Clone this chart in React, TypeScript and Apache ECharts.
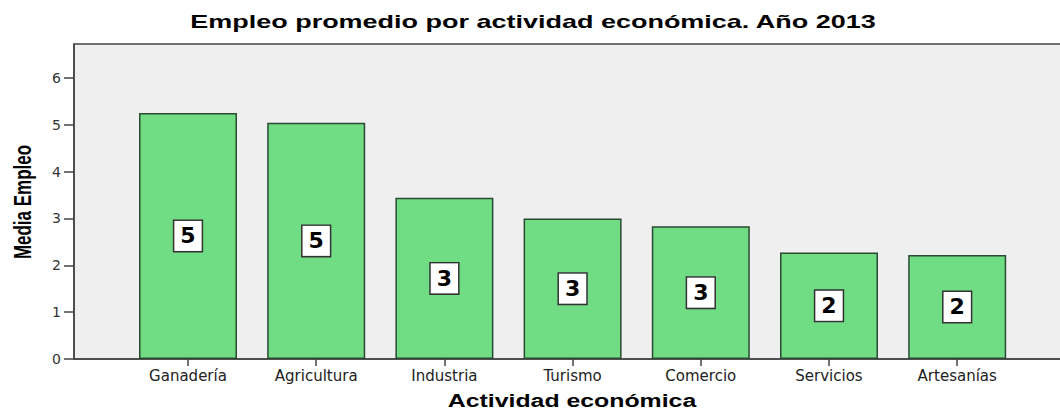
import React, { useEffect, useRef } from "react";
import * as echarts from "echarts";

const categories = ["Ganadería", "Agricultura", "Industria", "Turismo", "Comercio", "Servicios", "Artesanías"];
const meanEmpleo = [5.25, 5.04, 3.44, 3.0, 2.83, 2.27, 2.22];
const yTicks = [0, 1, 2, 3, 4, 5, 6];
const xTicks = [0, 1, 2, 3, 4, 5, 6];
const titleText = "Empleo promedio por actividad económica. Año 2013";
const xTitle = "Actividad económica";
const yTitle = "Media Empleo";

const CHART_W = 1080;
const CHART_H = 410;

export default function App() {
  const ref = useRef<HTMLDivElement>(null);
  useEffect(() => {
    if (!ref.current) return;
    const chart = echarts.init(ref.current, undefined, { renderer: "svg" });
    const gridLeft = 74;
    const gridRight = 0;
    const gridWidth = CHART_W - gridLeft - gridRight;
    const perCat = 128.2;
    const xMin = -114 / perCat;
    const xMax = xMin + gridWidth / perCat;
    const axisCol = "#444";
    chart.setOption({
      animation: false,
      backgroundColor: "#ffffff",
      grid: {
        left: gridLeft,
        right: gridRight,
        top: 44,
        bottom: 51,
        show: true,
        backgroundColor: "#efefef",
        borderColor: axisCol,
        borderWidth: 1.5,
      },
      xAxis: {
        type: "value",
        min: xMin,
        max: xMax,
        splitLine: { show: false },
        axisLine: { show: true, onZero: false, lineStyle: { color: axisCol, width: 1.5 } },
        axisTick: { show: true, length: 7, customValues: xTicks, lineStyle: { color: axisCol, width: 1.5 } },
        axisLabel: {
          customValues: xTicks,
          formatter: (v: number) => categories[Math.round(v)] ?? "",
          fontFamily: "DejaVu Sans",
          fontSize: 15,
          color: "#222",
          margin: 9,
        },
      },
      yAxis: {
        type: "value",
        min: 0,
        max: 6.72,
        splitLine: { show: false },
        axisLine: { show: true, onZero: false, lineStyle: { color: axisCol, width: 1.5 } },
        axisTick: { show: true, length: 10, customValues: yTicks, lineStyle: { color: axisCol, width: 1.5 } },
        axisLabel: {
          customValues: yTicks,
          fontFamily: "DejaVu Sans",
          fontSize: 14,
          color: "#333",
          margin: 13,
        },
      },
      series: [
        {
          type: "bar",
          barWidth: 98,
          data: meanEmpleo.map((v, i) => [i, v]),
          itemStyle: { color: "#70dc84", borderColor: "#2b4a33", borderWidth: 1.5 },
          label: {
            show: true,
            position: "inside",
            formatter: (p: any) => String(Math.round(p.value[1])),
            fontFamily: "DejaVu Sans",
            fontWeight: "bold",
            fontSize: 22,
            lineHeight: 24,
            color: "#000",
            backgroundColor: "#ffffff",
            borderColor: "#333",
            borderWidth: 1.5,
            padding: [3, 6, 3, 6],
          },
        },
      ],
      graphic: [
        {
          type: "text",
          x: 533,
          y: 21,
          scaleX: 1.42,
          style: {
            text: titleText,
            font: "bold 19px 'Liberation Sans', Arial, sans-serif",
            fill: "#000",
            textAlign: "center",
            textVerticalAlign: "middle",
          },
        },
        {
          type: "text",
          x: 572,
          y: 401,
          scaleX: 1.38,
          style: {
            text: xTitle,
            font: "bold 18px 'Liberation Sans', Arial, sans-serif",
            fill: "#000",
            textAlign: "center",
            textVerticalAlign: "middle",
          },
        },
        {
          type: "text",
          x: 22,
          y: 202,
          rotation: Math.PI / 2,
          scaleY: 1.38,
          style: {
            text: yTitle,
            font: "bold 17px 'Liberation Sans', Arial, sans-serif",
            fill: "#000",
            textAlign: "center",
            textVerticalAlign: "middle",
          },
        },
      ],
    });
    return () => chart.dispose();
  }, []);
  return (
    <div
      style={{ position: "absolute", left: 0, top: 0, width: 1060, height: 410, overflow: "hidden" }}
    >
      <div ref={ref} style={{ width: CHART_W, height: CHART_H }} />
    </div>
  );
}
